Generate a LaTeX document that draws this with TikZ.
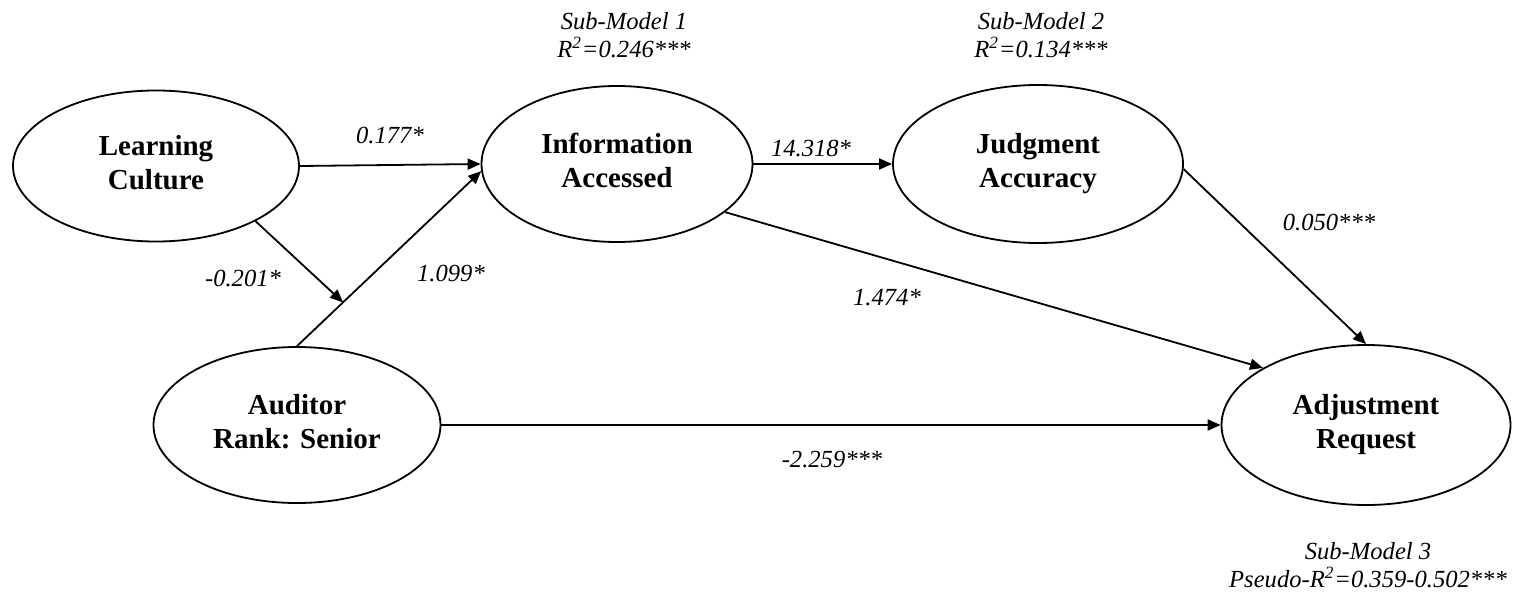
\documentclass[tikz,border=0pt]{standalone}
\usepackage{fontspec}
\setmainfont{Liberation Serif}
\usetikzlibrary{shapes.geometric,arrows.meta,calc}
\begin{document}
\begin{tikzpicture}[x=0.5pt,y=-0.5pt,
  latent/.style={ellipse,draw,line width=0.9pt,inner sep=0pt,align=center,
    font=\fontsize{14.5}{17}\selectfont\bfseries},
  path/.style={line width=0.9pt,-{Triangle[length=6.5pt,width=5.5pt]}},
  coef/.style={font=\fontsize{12.3}{14}\selectfont\itshape,inner sep=0pt},
  fit/.style={font=\fontsize{12.3}{14}\selectfont\itshape,inner sep=0pt,anchor=base}]
\useasboundingbox (0,0) rectangle (1520,594);

\node[latent,minimum width=143pt,minimum height=75.5pt] (LC) at (156,166) {Learning\strut\\Culture\strut};
\node[latent,minimum width=135.5pt,minimum height=78pt] (IA) at (617,164) {Information\strut\\Accessed\strut};
\node[latent,minimum width=145pt,minimum height=79pt] (JA) at (1038,164) {Judgment\strut\\Accuracy\strut};
\node[latent,minimum width=143.5pt,minimum height=78pt] (AR) at (297,425) {Auditor\strut\\Rank: Senior\strut};
\node[latent,minimum width=144.5pt,minimum height=80pt] (ADJ) at (1366,425) {Adjustment\strut\\Request\strut};

\draw[path] (LC.east) -- (IA.west);
\draw[path] (AR.north) -- (IA.183);
\coordinate (mod) at ($(AR.north)!0.25!(IA.183)$);
\draw[path] (LC.-29) -- (mod);
\draw[path] (IA.east) -- (JA.west);
\draw[path] (IA.-24) -- (ADJ.151);
\draw[path] (JA.-2) -- (ADJ.north);
\draw[path] (AR.east) -- (ADJ.west);

\node[coef] (c1) at (390,135) {0.177*};
\node[coef] (c2) at (243,278) {-0.201*};
\node[coef] (c3) at (451,273) {1.099*};
\node[coef] (c4) at (811,148) {14.318*};
\node[coef] (c5) at (1329,222) {0.050***};
\node[coef] (c6) at (887,298) {1.474*};
\node[coef] (c7) at (832,460) {-2.259***};

\node[fit] (s1a) at (624,29) {Sub-Model 1};
\node[fit] (s1b) at (624,57) {R\textsuperscript{2}=0.246***};
\node[fit] (s2a) at (1041,29) {Sub-Model 2};
\node[fit] (s2b) at (1041,57) {R\textsuperscript{2}=0.134***};
\node[fit] (s3a) at (1368,559) {Sub-Model 3};
\node[fit] (s3b) at (1368,587) {Pseudo-R\textsuperscript{2}=0.359-0.502***};
\end{tikzpicture}
\end{document}
